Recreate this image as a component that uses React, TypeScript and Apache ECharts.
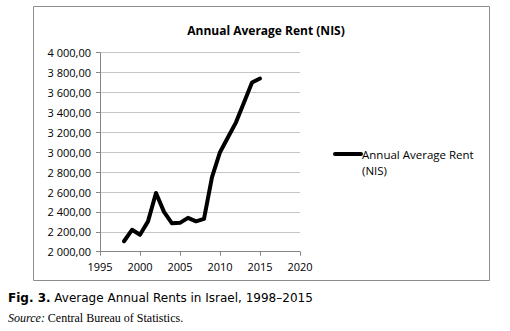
import React, { useEffect, useRef } from "react";
import * as echarts from "echarts";

const years = [1998, 1999, 2000, 2001, 2002, 2003, 2004, 2005, 2006, 2007, 2008, 2009, 2010, 2011, 2012, 2013, 2014, 2015];
const rents = [2105, 2220, 2170, 2305, 2590, 2400, 2285, 2290, 2340, 2305, 2330, 2750, 3000, 3150, 3300, 3500, 3700, 3740];
const chartTitle = "Annual Average Rent (NIS)";
const seriesName = "Annual Average Rent (NIS)";
const legendLines = ["Annual Average Rent", "(NIS)"];
const captionBold = "Fig. 3.";
const captionText = " Average Annual Rents in Israel, 1998\u20132015";
const sourceLabel = "Source:";
const sourceText = " Central Bureau of Statistics.";

function fmt(v: number): string {
  const s = v.toFixed(2).replace(".", ",");
  const [intPart, dec] = s.split(",");
  const withSpace = intPart.replace(/\B(?=(\d{3})+(?!\d))/g, " ");
  return withSpace + "," + dec;
}

export default function App() {
  const ref = useRef<HTMLDivElement>(null);
  useEffect(() => {
    if (!ref.current) return;
    const chart = echarts.init(ref.current, undefined, { renderer: "svg" });
    const font = "'Open Sans', 'Noto Sans', sans-serif";
    chart.setOption({
      animation: false,
      backgroundColor: "#ffffff",
      title: {
        text: chartTitle,
        left: 261,
        top: 19,
        textAlign: "center",
        textStyle: { fontFamily: font, fontSize: 12, fontWeight: "bold", color: "#000" },
      },
      grid: { left: 100, right: 210, top: 52.7, bottom: 79.3, containLabel: false },
      xAxis: {
        type: "value",
        min: 1995,
        max: 2020,
        interval: 5,
        axisLine: { show: true, lineStyle: { color: "#868686", width: 1 } },
        axisTick: { show: true, length: 4, inside: false, lineStyle: { color: "#868686" } },
        splitLine: { show: false },
        axisLabel: { fontFamily: font, fontSize: 11, color: "#000", margin: 9, formatter: (v: number) => String(v) },
      },
      yAxis: {
        type: "value",
        min: 2000,
        max: 4000,
        interval: 200,
        axisLine: { show: true, lineStyle: { color: "#868686", width: 1 } },
        axisTick: { show: true, length: 4, lineStyle: { color: "#868686" } },
        splitLine: { show: true, lineStyle: { color: "#c6c6c6", width: 1 } },
        axisLabel: { fontFamily: font, fontSize: 11, color: "#000", margin: 9, formatter: (v: number) => fmt(v) },
      },
      series: [
        {
          name: seriesName,
          type: "line",
          data: years.map((y, i) => [y, rents[i]]),
          showSymbol: false,
          symbol: "none",
          lineStyle: { color: "#000", width: 4, cap: "round", join: "round" },
        },
      ],
      graphic: [
        {
          type: "rect",
          shape: { x: 33.5, y: 6.5, width: 456, height: 274 },
          style: { fill: "none", stroke: "#8c8c8c", lineWidth: 1 },
          silent: true,
        },
        {
          type: "line",
          shape: { x1: 335, y1: 154, x2: 361, y2: 154 },
          style: { stroke: "#000", lineWidth: 4, lineCap: "round" },
        },
        {
          type: "text",
          x: 362,
          y: 146,
          style: {
            text: legendLines.join("\n"),
            fontFamily: font,
            fontSize: 11.5,
            fill: "#000",
            verticalAlign: "top",
            lineHeight: 16,
          },
        },
        {
          type: "text",
          x: 8,
          y: 298,
          style: {
            text: "{b|" + captionBold + "}" + captionText,
            fontFamily: "'DejaVu Sans', sans-serif",
            fontSize: 12,
            fill: "#000",
            verticalAlign: "middle",
            rich: { b: { fontWeight: "bold", fontFamily: "'DejaVu Sans', sans-serif", fontSize: 12, fill: "#000" } },
          },
        },
        {
          type: "text",
          x: 8,
          y: 318,
          style: {
            text: "{i|" + sourceLabel + "}" + sourceText,
            fontFamily: "'Liberation Serif', serif",
            fontSize: 12,
            fill: "#000",
            verticalAlign: "middle",
            rich: { i: { fontStyle: "italic", fontFamily: "'Liberation Serif', serif", fontSize: 12, fill: "#000" } },
          },
        },
      ],
    });
    return () => chart.dispose();
  }, []);
  return (
    <div style={{ position: "absolute", left: 0, top: 0, width: 510, height: 331 }}>
      <div ref={ref} style={{ width: 510, height: 331 }} />
    </div>
  );
}
